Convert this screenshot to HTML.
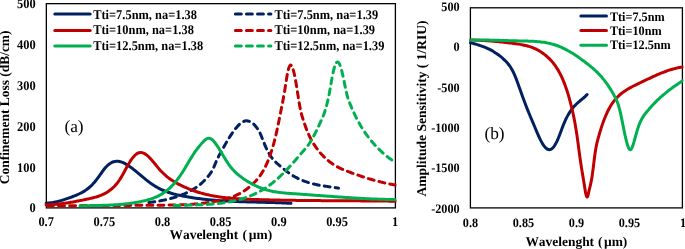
<!DOCTYPE html>
<html><head><meta charset="utf-8"><title>chart</title>
<style>
html,body{margin:0;padding:0;background:#fff;}
body{width:685px;height:249px;overflow:hidden;}
svg{display:block;will-change:transform;}
text{font-family:"Liberation Serif",serif;fill:#000;font-kerning:none;text-rendering:geometricPrecision;}
.b{font-weight:bold;}
.r{font-weight:normal;}
</style></head><body>
<svg width="685" height="249" viewBox="0 0 685 249">
<rect x="0" y="0" width="685" height="249" fill="#fff"/>
<rect x="46.35" y="3.65" width="349.05" height="204.25" fill="none" stroke="#000" stroke-width="1.3"/>
<rect x="470.40" y="7.80" width="212.00" height="200.10" fill="none" stroke="#000" stroke-width="1.3"/>
<clipPath id="cl"><rect x="44.4" y="3.6" width="352.0" height="205.2"/></clipPath>
<clipPath id="cr"><rect x="468.4" y="7.8" width="215.0" height="201.1"/></clipPath>
<g clip-path="url(#cl)">
<path d="M46.00 203.17 C46.25 203.15 47.00 203.13 47.50 203.10 C48.00 203.07 48.50 203.03 49.00 202.99 C49.50 202.94 50.00 202.89 50.50 202.83 C51.00 202.77 51.50 202.70 52.00 202.62 C52.50 202.55 53.00 202.46 53.50 202.38 C54.00 202.29 54.50 202.19 55.00 202.09 C55.50 201.99 56.00 201.88 56.50 201.76 C57.00 201.65 57.50 201.53 58.00 201.41 C58.50 201.28 59.00 201.15 59.50 201.01 C60.00 200.88 60.50 200.74 61.00 200.59 C61.50 200.45 62.00 200.30 62.50 200.15 C63.00 199.99 63.50 199.84 64.00 199.68 C64.50 199.51 65.00 199.35 65.50 199.18 C66.00 199.01 66.50 198.84 67.00 198.67 C67.50 198.50 68.00 198.32 68.50 198.14 C69.00 197.96 69.50 197.78 70.00 197.60 C70.50 197.41 71.00 197.23 71.50 197.04 C72.00 196.85 72.50 196.67 73.00 196.48 C73.50 196.29 74.00 196.09 74.50 195.90 C75.00 195.70 75.50 195.50 76.00 195.30 C76.50 195.09 77.00 194.88 77.50 194.66 C78.00 194.44 78.50 194.22 79.00 193.98 C79.50 193.75 80.00 193.51 80.50 193.25 C81.00 193.00 81.50 192.74 82.00 192.46 C82.50 192.19 83.00 191.90 83.50 191.60 C84.00 191.30 84.50 190.99 85.00 190.66 C85.50 190.33 86.00 189.99 86.50 189.63 C87.00 189.27 87.50 188.90 88.00 188.50 C88.50 188.11 89.00 187.69 89.50 187.26 C90.00 186.83 90.50 186.38 91.00 185.90 C91.50 185.43 92.00 184.94 92.50 184.42 C93.00 183.90 93.50 183.36 94.00 182.80 C94.50 182.23 95.00 181.64 95.50 181.03 C96.00 180.41 96.50 179.76 97.00 179.10 C97.50 178.44 98.00 177.74 98.50 177.05 C99.00 176.35 99.50 175.63 100.00 174.92 C100.50 174.22 101.00 173.50 101.50 172.80 C102.00 172.10 102.50 171.40 103.00 170.73 C103.50 170.07 104.00 169.41 104.50 168.79 C105.00 168.18 105.50 167.59 106.00 167.04 C106.50 166.50 107.00 165.99 107.50 165.52 C108.00 165.05 108.50 164.62 109.00 164.23 C109.50 163.84 110.00 163.49 110.50 163.18 C111.00 162.87 111.50 162.60 112.00 162.36 C112.50 162.13 113.00 161.94 113.50 161.78 C114.00 161.62 114.50 161.51 115.00 161.42 C115.50 161.34 116.00 161.29 116.50 161.27 C117.00 161.25 117.50 161.27 118.00 161.31 C118.50 161.35 119.00 161.43 119.50 161.53 C120.00 161.63 120.50 161.76 121.00 161.91 C121.50 162.06 122.00 162.24 122.50 162.44 C123.00 162.63 123.50 162.86 124.00 163.10 C124.50 163.34 125.00 163.60 125.50 163.87 C126.00 164.15 126.50 164.45 127.00 164.76 C127.50 165.06 128.00 165.39 128.50 165.72 C129.00 166.06 129.50 166.41 130.00 166.76 C130.50 167.12 131.00 167.49 131.50 167.86 C132.00 168.24 132.50 168.62 133.00 169.00 C133.50 169.39 134.00 169.79 134.50 170.18 C135.00 170.58 135.50 170.99 136.00 171.39 C136.50 171.80 137.00 172.21 137.50 172.62 C138.00 173.03 138.50 173.45 139.00 173.87 C139.50 174.28 140.00 174.70 140.50 175.12 C141.00 175.54 141.50 175.95 142.00 176.37 C142.50 176.79 143.00 177.20 143.50 177.61 C144.00 178.03 144.50 178.44 145.00 178.84 C145.50 179.25 146.00 179.65 146.50 180.05 C147.00 180.45 147.50 180.84 148.00 181.23 C148.50 181.61 149.00 181.99 149.50 182.37 C150.00 182.74 150.50 183.10 151.00 183.46 C151.50 183.82 152.00 184.17 152.50 184.50 C153.00 184.84 153.50 185.17 154.00 185.49 C154.50 185.81 155.00 186.12 155.50 186.41 C156.00 186.71 156.50 187.00 157.00 187.28 C157.50 187.57 158.00 187.84 158.50 188.10 C159.00 188.36 159.50 188.62 160.00 188.87 C160.50 189.11 161.00 189.35 161.50 189.58 C162.00 189.81 162.50 190.04 163.00 190.25 C163.50 190.47 164.00 190.68 164.50 190.88 C165.00 191.08 165.50 191.28 166.00 191.47 C166.50 191.66 167.00 191.84 167.50 192.01 C168.00 192.19 168.50 192.36 169.00 192.53 C169.50 192.69 170.00 192.85 170.50 193.00 C171.00 193.16 171.50 193.31 172.00 193.45 C172.50 193.60 173.00 193.74 173.50 193.87 C174.00 194.01 174.50 194.14 175.00 194.26 C175.50 194.39 176.00 194.51 176.50 194.63 C177.00 194.75 177.50 194.87 178.00 194.98 C178.50 195.10 179.00 195.21 179.50 195.31 C180.00 195.42 180.50 195.53 181.00 195.63 C181.50 195.73 182.00 195.83 182.50 195.93 C183.00 196.03 183.50 196.13 184.00 196.22 C184.50 196.32 185.00 196.41 185.50 196.50 C186.00 196.59 186.50 196.69 187.00 196.77 C187.50 196.86 188.00 196.95 188.50 197.04 C189.00 197.12 189.50 197.20 190.00 197.29 C190.50 197.37 191.00 197.45 191.50 197.53 C192.00 197.61 192.50 197.69 193.00 197.76 C193.50 197.84 194.00 197.92 194.50 197.99 C195.00 198.06 195.50 198.13 196.00 198.21 C196.50 198.28 197.00 198.35 197.50 198.41 C198.00 198.48 198.50 198.55 199.00 198.61 C199.50 198.68 200.00 198.74 200.50 198.80 C201.00 198.87 201.50 198.93 202.00 198.99 C202.50 199.05 203.00 199.11 203.50 199.16 C204.00 199.22 204.50 199.28 205.00 199.33 C205.50 199.39 206.00 199.44 206.50 199.50 C207.00 199.55 207.50 199.60 208.00 199.65 C208.50 199.70 209.00 199.75 209.50 199.80 C210.00 199.85 210.50 199.89 211.00 199.94 C211.50 199.99 212.00 200.03 212.50 200.07 C213.00 200.12 213.50 200.16 214.00 200.20 C214.50 200.25 215.00 200.29 215.50 200.33 C216.00 200.37 216.50 200.40 217.00 200.44 C217.50 200.48 218.00 200.52 218.50 200.55 C219.00 200.59 219.50 200.63 220.00 200.66 C220.50 200.69 221.00 200.73 221.50 200.76 C222.00 200.79 222.50 200.83 223.00 200.86 C223.50 200.89 224.00 200.92 224.50 200.95 C225.00 200.98 225.50 201.01 226.00 201.03 C226.50 201.06 227.00 201.09 227.50 201.12 C228.00 201.14 228.50 201.17 229.00 201.19 C229.50 201.22 230.00 201.24 230.50 201.27 C231.00 201.29 231.50 201.32 232.00 201.34 C232.50 201.36 233.00 201.38 233.50 201.40 C234.00 201.43 234.50 201.45 235.00 201.47 C235.50 201.49 236.00 201.51 236.50 201.53 C237.00 201.55 237.50 201.57 238.00 201.59 C238.50 201.60 239.00 201.62 239.50 201.64 C240.00 201.66 240.50 201.67 241.00 201.69 C241.50 201.71 242.00 201.72 242.50 201.74 C243.00 201.76 243.50 201.77 244.00 201.79 C244.50 201.80 245.00 201.82 245.50 201.83 C246.00 201.85 246.50 201.86 247.00 201.88 C247.50 201.89 248.00 201.91 248.50 201.92 C249.00 201.93 249.50 201.95 250.00 201.96 C250.50 201.97 251.00 201.99 251.50 202.00 C252.00 202.01 252.50 202.02 253.00 202.04 C253.50 202.05 254.00 202.06 254.50 202.08 C255.00 202.09 255.50 202.10 256.00 202.11 C256.50 202.13 257.00 202.14 257.50 202.15 C258.00 202.16 258.50 202.17 259.00 202.19 C259.50 202.20 260.00 202.21 260.50 202.22 C261.00 202.24 261.50 202.25 262.00 202.26 C262.50 202.27 263.00 202.29 263.50 202.30 C264.00 202.31 264.50 202.32 265.00 202.34 C265.50 202.35 266.00 202.36 266.50 202.38 C267.00 202.39 267.50 202.40 268.00 202.42 C268.50 202.43 269.00 202.44 269.50 202.46 C270.00 202.47 270.50 202.49 271.00 202.50 C271.50 202.52 272.00 202.53 272.50 202.55 C273.00 202.56 273.50 202.58 274.00 202.59 C274.50 202.61 275.00 202.62 275.50 202.64 C276.00 202.66 276.50 202.67 277.00 202.69 C277.50 202.71 278.00 202.73 278.50 202.74 C279.00 202.76 279.50 202.78 280.00 202.80 C280.50 202.82 281.00 202.84 281.50 202.86 C282.00 202.88 282.50 202.90 283.00 202.92 C283.50 202.94 284.00 202.97 284.50 202.99 C285.00 203.01 285.50 203.03 286.00 203.06 C286.50 203.08 287.00 203.10 287.50 203.13 C288.00 203.15 288.50 203.18 289.00 203.21 C289.50 203.23 290.17 203.27 290.50 203.29 C290.83 203.30 290.92 203.31 291.00 203.31" fill="none" stroke="#002060" stroke-width="3.00" stroke-linecap="round" stroke-linejoin="round"/>
<path d="M148.90 202.55 C149.15 202.51 149.90 202.41 150.40 202.34 C150.90 202.28 151.40 202.21 151.90 202.13 C152.40 202.06 152.90 201.99 153.40 201.92 C153.90 201.84 154.40 201.77 154.90 201.69 C155.40 201.61 155.90 201.54 156.40 201.46 C156.90 201.38 157.40 201.29 157.90 201.21 C158.40 201.13 158.90 201.04 159.40 200.95 C159.90 200.86 160.40 200.77 160.90 200.68 C161.40 200.59 161.90 200.49 162.40 200.40 C162.90 200.30 163.40 200.20 163.90 200.10 C164.40 199.99 164.90 199.89 165.40 199.78 C165.90 199.67 166.40 199.56 166.90 199.44 C167.40 199.33 167.90 199.21 168.40 199.09 C168.90 198.96 169.40 198.84 169.90 198.71 C170.40 198.58 170.90 198.45 171.40 198.31 C171.90 198.17 172.40 198.03 172.90 197.89 C173.40 197.74 173.90 197.60 174.40 197.44 C174.90 197.29 175.40 197.13 175.90 196.97 C176.40 196.81 176.90 196.64 177.40 196.47 C177.90 196.30 178.40 196.13 178.90 195.95 C179.40 195.77 179.90 195.58 180.40 195.39 C180.90 195.20 181.40 195.01 181.90 194.81 C182.40 194.61 182.90 194.40 183.40 194.19 C183.90 193.98 184.40 193.76 184.90 193.54 C185.40 193.31 185.90 193.09 186.40 192.85 C186.90 192.62 187.40 192.38 187.90 192.13 C188.40 191.88 188.90 191.63 189.40 191.37 C189.90 191.11 190.40 190.85 190.90 190.58 C191.40 190.30 191.90 190.03 192.40 189.74 C192.90 189.45 193.40 189.15 193.90 188.85 C194.40 188.54 194.90 188.22 195.40 187.90 C195.90 187.57 196.40 187.23 196.90 186.88 C197.40 186.53 197.90 186.16 198.40 185.78 C198.90 185.40 199.40 185.01 199.90 184.60 C200.40 184.20 200.90 183.77 201.40 183.33 C201.90 182.89 202.40 182.44 202.90 181.96 C203.40 181.49 203.90 180.99 204.40 180.48 C204.90 179.97 205.40 179.44 205.90 178.89 C206.40 178.33 206.90 177.76 207.40 177.18 C207.90 176.59 208.40 175.98 208.90 175.36 C209.40 174.73 209.90 174.12 210.40 173.41 C210.90 172.71 211.40 171.99 211.90 171.10 C212.40 170.21 212.90 169.18 213.40 168.10 C213.90 167.01 214.40 165.77 214.90 164.60 C215.40 163.43 215.90 162.19 216.40 161.06 C216.90 159.93 217.40 158.85 217.90 157.82 C218.40 156.79 218.90 155.82 219.40 154.87 C219.90 153.93 220.40 153.03 220.90 152.13 C221.40 151.24 221.90 150.38 222.40 149.49 C222.90 148.60 223.40 147.71 223.90 146.82 C224.40 145.92 224.90 145.00 225.40 144.11 C225.90 143.23 226.40 142.35 226.90 141.50 C227.40 140.65 227.90 139.81 228.40 139.00 C228.90 138.18 229.40 137.39 229.90 136.61 C230.40 135.84 230.90 135.08 231.40 134.34 C231.90 133.60 232.40 132.88 232.90 132.18 C233.40 131.48 233.90 130.79 234.40 130.13 C234.90 129.47 235.40 128.82 235.90 128.20 C236.40 127.58 236.90 126.97 237.40 126.41 C237.90 125.84 238.40 125.30 238.90 124.81 C239.40 124.32 239.90 123.86 240.40 123.45 C240.90 123.04 241.40 122.67 241.90 122.36 C242.40 122.05 242.90 121.78 243.40 121.56 C243.90 121.35 244.40 121.18 244.90 121.06 C245.40 120.94 245.90 120.87 246.40 120.85 C246.90 120.83 247.40 120.86 247.90 120.94 C248.40 121.01 248.90 121.14 249.40 121.32 C249.90 121.50 250.40 121.73 250.90 122.01 C251.40 122.29 251.90 122.63 252.40 123.01 C252.90 123.39 253.40 123.83 253.90 124.31 C254.40 124.80 254.90 125.34 255.40 125.93 C255.90 126.52 256.40 127.15 256.90 127.85 C257.40 128.55 257.90 129.29 258.40 130.13 C258.90 130.96 259.40 131.85 259.90 132.87 C260.40 133.89 260.90 135.04 261.40 136.23 C261.90 137.43 262.40 138.79 262.90 140.05 C263.40 141.31 263.90 142.60 264.40 143.81 C264.90 145.02 265.40 146.20 265.90 147.32 C266.40 148.43 266.90 149.50 267.40 150.50 C267.90 151.50 268.40 152.44 268.90 153.31 C269.40 154.19 269.90 154.99 270.40 155.75 C270.90 156.51 271.40 157.21 271.90 157.87 C272.40 158.53 272.90 159.14 273.40 159.72 C273.90 160.30 274.40 160.83 274.90 161.35 C275.40 161.87 275.90 162.35 276.40 162.82 C276.90 163.29 277.40 163.73 277.90 164.17 C278.40 164.61 278.90 165.03 279.40 165.46 C279.90 165.88 280.40 166.30 280.90 166.72 C281.40 167.14 281.90 167.55 282.40 167.96 C282.90 168.37 283.40 168.78 283.90 169.18 C284.40 169.58 284.90 169.97 285.40 170.36 C285.90 170.74 286.40 171.13 286.90 171.50 C287.40 171.88 287.90 172.24 288.40 172.60 C288.90 172.96 289.40 173.32 289.90 173.66 C290.40 174.00 290.90 174.34 291.40 174.66 C291.90 174.99 292.40 175.31 292.90 175.61 C293.40 175.92 293.90 176.22 294.40 176.51 C294.90 176.80 295.40 177.08 295.90 177.35 C296.40 177.62 296.90 177.88 297.40 178.14 C297.90 178.39 298.40 178.64 298.90 178.88 C299.40 179.12 299.90 179.35 300.40 179.57 C300.90 179.80 301.40 180.01 301.90 180.22 C302.40 180.43 302.90 180.63 303.40 180.83 C303.90 181.02 304.40 181.21 304.90 181.39 C305.40 181.57 305.90 181.75 306.40 181.92 C306.90 182.09 307.40 182.25 307.90 182.41 C308.40 182.56 308.90 182.72 309.40 182.86 C309.90 183.01 310.40 183.15 310.90 183.29 C311.40 183.43 311.90 183.56 312.40 183.68 C312.90 183.81 313.40 183.93 313.90 184.05 C314.40 184.17 314.90 184.28 315.40 184.40 C315.90 184.51 316.40 184.61 316.90 184.72 C317.40 184.82 317.90 184.92 318.40 185.01 C318.90 185.11 319.40 185.20 319.90 185.30 C320.40 185.39 320.90 185.47 321.40 185.56 C321.90 185.65 322.40 185.73 322.90 185.81 C323.40 185.89 323.90 185.97 324.40 186.05 C324.90 186.13 325.40 186.20 325.90 186.28 C326.40 186.35 326.90 186.43 327.40 186.50 C327.90 186.57 328.40 186.64 328.90 186.72 C329.40 186.79 329.90 186.86 330.40 186.93 C330.90 187.00 331.40 187.07 331.90 187.14 C332.40 187.21 332.90 187.28 333.40 187.35 C333.90 187.43 334.40 187.50 334.90 187.57 C335.40 187.64 335.90 187.72 336.40 187.79 C336.90 187.87 337.53 187.97 337.90 188.02 C338.27 188.08 338.48 188.12 338.60 188.13" fill="none" stroke="#002060" stroke-width="3.00" stroke-linecap="round" stroke-linejoin="round" stroke-dasharray="5.9 5.15" stroke-dashoffset="0.00"/>
<path d="M46.00 204.83 C46.25 204.82 47.00 204.81 47.50 204.79 C48.00 204.78 48.50 204.76 49.00 204.74 C49.50 204.72 50.00 204.70 50.50 204.67 C51.00 204.65 51.50 204.62 52.00 204.59 C52.50 204.56 53.00 204.52 53.50 204.49 C54.00 204.45 54.50 204.41 55.00 204.37 C55.50 204.33 56.00 204.28 56.50 204.24 C57.00 204.19 57.50 204.14 58.00 204.09 C58.50 204.04 59.00 203.98 59.50 203.93 C60.00 203.87 60.50 203.81 61.00 203.75 C61.50 203.69 62.00 203.63 62.50 203.56 C63.00 203.50 63.50 203.43 64.00 203.36 C64.50 203.29 65.00 203.22 65.50 203.15 C66.00 203.08 66.50 203.00 67.00 202.93 C67.50 202.85 68.00 202.77 68.50 202.69 C69.00 202.61 69.50 202.53 70.00 202.45 C70.50 202.36 71.00 202.28 71.50 202.19 C72.00 202.11 72.50 202.02 73.00 201.93 C73.50 201.84 74.00 201.75 74.50 201.66 C75.00 201.57 75.50 201.47 76.00 201.38 C76.50 201.28 77.00 201.19 77.50 201.09 C78.00 200.99 78.50 200.90 79.00 200.80 C79.50 200.70 80.00 200.60 80.50 200.50 C81.00 200.40 81.50 200.29 82.00 200.19 C82.50 200.09 83.00 199.99 83.50 199.88 C84.00 199.78 84.50 199.67 85.00 199.57 C85.50 199.46 86.00 199.36 86.50 199.25 C87.00 199.14 87.50 199.04 88.00 198.93 C88.50 198.82 89.00 198.71 89.50 198.60 C90.00 198.49 90.50 198.38 91.00 198.27 C91.50 198.15 92.00 198.04 92.50 197.92 C93.00 197.80 93.50 197.67 94.00 197.54 C94.50 197.42 95.00 197.28 95.50 197.14 C96.00 197.00 96.50 196.85 97.00 196.70 C97.50 196.54 98.00 196.38 98.50 196.21 C99.00 196.04 99.50 195.86 100.00 195.67 C100.50 195.48 101.00 195.28 101.50 195.07 C102.00 194.86 102.50 194.64 103.00 194.40 C103.50 194.17 104.00 193.92 104.50 193.66 C105.00 193.40 105.50 193.12 106.00 192.83 C106.50 192.54 107.00 192.24 107.50 191.92 C108.00 191.60 108.50 191.26 109.00 190.91 C109.50 190.56 110.00 190.19 110.50 189.80 C111.00 189.41 111.50 189.00 112.00 188.57 C112.50 188.14 113.00 187.70 113.50 187.23 C114.00 186.75 114.50 186.26 115.00 185.73 C115.50 185.21 116.00 184.65 116.50 184.06 C117.00 183.47 117.50 182.84 118.00 182.17 C118.50 181.50 119.00 180.79 119.50 180.03 C120.00 179.28 120.50 178.47 121.00 177.63 C121.50 176.80 122.00 175.92 122.50 175.03 C123.00 174.14 123.50 173.21 124.00 172.30 C124.50 171.38 125.00 170.44 125.50 169.53 C126.00 168.61 126.50 167.69 127.00 166.79 C127.50 165.90 128.00 165.02 128.50 164.17 C129.00 163.32 129.50 162.49 130.00 161.70 C130.50 160.91 131.00 160.15 131.50 159.44 C132.00 158.72 132.50 158.04 133.00 157.42 C133.50 156.80 134.00 156.22 134.50 155.70 C135.00 155.18 135.50 154.72 136.00 154.32 C136.50 153.92 137.00 153.59 137.50 153.32 C138.00 153.05 138.50 152.86 139.00 152.72 C139.50 152.58 140.00 152.51 140.50 152.50 C141.00 152.49 141.50 152.54 142.00 152.65 C142.50 152.75 143.00 152.92 143.50 153.13 C144.00 153.33 144.50 153.60 145.00 153.90 C145.50 154.20 146.00 154.55 146.50 154.93 C147.00 155.31 147.50 155.74 148.00 156.19 C148.50 156.64 149.00 157.13 149.50 157.63 C150.00 158.14 150.50 158.68 151.00 159.23 C151.50 159.78 152.00 160.35 152.50 160.93 C153.00 161.51 153.50 162.12 154.00 162.72 C154.50 163.32 155.00 163.93 155.50 164.54 C156.00 165.15 156.50 165.77 157.00 166.37 C157.50 166.98 158.00 167.58 158.50 168.17 C159.00 168.76 159.50 169.34 160.00 169.90 C160.50 170.46 161.00 171.01 161.50 171.53 C162.00 172.06 162.50 172.56 163.00 173.05 C163.50 173.54 164.00 174.02 164.50 174.48 C165.00 174.93 165.50 175.38 166.00 175.80 C166.50 176.23 167.00 176.65 167.50 177.05 C168.00 177.45 168.50 177.83 169.00 178.21 C169.50 178.58 170.00 178.94 170.50 179.29 C171.00 179.65 171.50 179.98 172.00 180.31 C172.50 180.64 173.00 180.96 173.50 181.27 C174.00 181.58 174.50 181.89 175.00 182.18 C175.50 182.47 176.00 182.76 176.50 183.04 C177.00 183.32 177.50 183.59 178.00 183.85 C178.50 184.12 179.00 184.38 179.50 184.63 C180.00 184.89 180.50 185.14 181.00 185.39 C181.50 185.63 182.00 185.88 182.50 186.11 C183.00 186.35 183.50 186.58 184.00 186.81 C184.50 187.04 185.00 187.26 185.50 187.48 C186.00 187.71 186.50 187.92 187.00 188.13 C187.50 188.34 188.00 188.55 188.50 188.76 C189.00 188.96 189.50 189.16 190.00 189.35 C190.50 189.55 191.00 189.74 191.50 189.93 C192.00 190.12 192.50 190.30 193.00 190.48 C193.50 190.66 194.00 190.84 194.50 191.01 C195.00 191.18 195.50 191.35 196.00 191.51 C196.50 191.68 197.00 191.84 197.50 192.00 C198.00 192.16 198.50 192.31 199.00 192.46 C199.50 192.61 200.00 192.76 200.50 192.90 C201.00 193.05 201.50 193.19 202.00 193.32 C202.50 193.46 203.00 193.60 203.50 193.73 C204.00 193.86 204.50 193.99 205.00 194.11 C205.50 194.23 206.00 194.36 206.50 194.47 C207.00 194.59 207.50 194.71 208.00 194.82 C208.50 194.93 209.00 195.04 209.50 195.15 C210.00 195.26 210.50 195.36 211.00 195.46 C211.50 195.56 212.00 195.66 212.50 195.76 C213.00 195.85 213.50 195.95 214.00 196.04 C214.50 196.13 215.00 196.21 215.50 196.30 C216.00 196.39 216.50 196.47 217.00 196.55 C217.50 196.63 218.00 196.71 218.50 196.78 C219.00 196.86 219.50 196.93 220.00 197.00 C220.50 197.08 221.00 197.14 221.50 197.21 C222.00 197.28 222.50 197.34 223.00 197.41 C223.50 197.47 224.00 197.53 224.50 197.59 C225.00 197.65 225.50 197.70 226.00 197.76 C226.50 197.81 227.00 197.87 227.50 197.92 C228.00 197.97 228.50 198.02 229.00 198.07 C229.50 198.12 230.00 198.16 230.50 198.21 C231.00 198.25 231.50 198.29 232.00 198.34 C232.50 198.38 233.00 198.42 233.50 198.45 C234.00 198.49 234.50 198.53 235.00 198.57 C235.50 198.60 236.00 198.64 236.50 198.67 C237.00 198.70 237.50 198.73 238.00 198.77 C238.50 198.80 239.00 198.83 239.50 198.85 C240.00 198.88 240.50 198.91 241.00 198.94 C241.50 198.96 242.00 198.99 242.50 199.01 C243.00 199.04 243.50 199.06 244.00 199.08 C244.50 199.11 245.00 199.13 245.50 199.15 C246.00 199.17 246.50 199.19 247.00 199.21 C247.50 199.23 248.00 199.25 248.50 199.27 C249.00 199.29 249.50 199.31 250.00 199.32 C250.50 199.34 251.00 199.36 251.50 199.38 C252.00 199.39 252.50 199.41 253.00 199.43 C253.50 199.44 254.00 199.46 254.50 199.47 C255.00 199.49 255.50 199.51 256.00 199.52 C256.50 199.54 257.00 199.55 257.50 199.57 C258.00 199.58 258.50 199.60 259.00 199.61 C259.50 199.62 260.00 199.64 260.50 199.65 C261.00 199.67 261.50 199.68 262.00 199.69 C262.50 199.71 263.00 199.72 263.50 199.74 C264.00 199.75 264.50 199.76 265.00 199.78 C265.50 199.79 266.00 199.80 266.50 199.81 C267.00 199.83 267.50 199.84 268.00 199.85 C268.50 199.86 269.00 199.88 269.50 199.89 C270.00 199.90 270.50 199.91 271.00 199.92 C271.50 199.93 272.00 199.95 272.50 199.96 C273.00 199.97 273.50 199.98 274.00 199.99 C274.50 200.00 275.00 200.01 275.50 200.02 C276.00 200.03 276.50 200.04 277.00 200.05 C277.50 200.06 278.00 200.07 278.50 200.08 C279.00 200.09 279.50 200.10 280.00 200.11 C280.50 200.12 281.00 200.13 281.50 200.14 C282.00 200.15 282.50 200.16 283.00 200.17 C283.50 200.18 284.00 200.19 284.50 200.19 C285.00 200.20 285.50 200.21 286.00 200.22 C286.50 200.23 287.00 200.24 287.50 200.24 C288.00 200.25 288.50 200.26 289.00 200.27 C289.50 200.28 290.00 200.28 290.50 200.29 C291.00 200.30 291.50 200.31 292.00 200.31 C292.50 200.32 293.00 200.33 293.50 200.34 C294.00 200.34 294.50 200.35 295.00 200.36 C295.50 200.36 296.00 200.37 296.50 200.38 C297.00 200.38 297.50 200.39 298.00 200.40 C298.50 200.40 299.00 200.41 299.50 200.42 C300.00 200.42 300.50 200.43 301.00 200.43 C301.50 200.44 302.00 200.45 302.50 200.45 C303.00 200.46 303.50 200.46 304.00 200.47 C304.50 200.47 305.00 200.48 305.50 200.49 C306.00 200.49 306.50 200.50 307.00 200.50 C307.50 200.51 308.00 200.51 308.50 200.52 C309.00 200.52 309.50 200.53 310.00 200.53 C310.50 200.54 311.00 200.54 311.50 200.55 C312.00 200.55 312.50 200.56 313.00 200.56 C313.50 200.57 314.00 200.57 314.50 200.57 C315.00 200.58 315.50 200.58 316.00 200.59 C316.50 200.59 317.00 200.60 317.50 200.60 C318.00 200.60 318.50 200.61 319.00 200.61 C319.50 200.62 320.00 200.62 320.50 200.62 C321.00 200.63 321.50 200.63 322.00 200.64 C322.50 200.64 323.00 200.64 323.50 200.65 C324.00 200.65 324.50 200.65 325.00 200.66 C325.50 200.66 326.00 200.66 326.50 200.67 C327.00 200.67 327.50 200.67 328.00 200.68 C328.50 200.68 329.00 200.68 329.50 200.69 C330.00 200.69 330.50 200.69 331.00 200.70 C331.50 200.70 332.00 200.70 332.50 200.71 C333.00 200.71 333.50 200.71 334.00 200.72 C334.50 200.72 335.00 200.72 335.50 200.73 C336.00 200.73 336.50 200.73 337.00 200.74 C337.50 200.74 338.00 200.74 338.50 200.74 C339.00 200.75 339.50 200.75 340.00 200.75 C340.50 200.76 341.00 200.76 341.50 200.76 C342.00 200.76 342.50 200.77 343.00 200.77 C343.50 200.77 344.00 200.78 344.50 200.78 C345.00 200.78 345.50 200.79 346.00 200.79 C346.50 200.79 347.00 200.79 347.50 200.80 C348.00 200.80 348.50 200.80 349.00 200.81 C349.50 200.81 350.00 200.81 350.50 200.81 C351.00 200.82 351.50 200.82 352.00 200.82 C352.50 200.83 353.00 200.83 353.50 200.83 C354.00 200.84 354.50 200.84 355.00 200.84 C355.50 200.84 356.00 200.85 356.50 200.85 C357.00 200.85 357.50 200.86 358.00 200.86 C358.50 200.86 359.00 200.87 359.50 200.87 C360.00 200.87 360.50 200.88 361.00 200.88 C361.50 200.88 362.00 200.89 362.50 200.89 C363.00 200.89 363.50 200.90 364.00 200.90 C364.50 200.90 365.00 200.91 365.50 200.91 C366.00 200.91 366.50 200.92 367.00 200.92 C367.50 200.92 368.00 200.93 368.50 200.93 C369.00 200.93 369.50 200.94 370.00 200.94 C370.50 200.95 371.00 200.95 371.50 200.95 C372.00 200.96 372.50 200.96 373.00 200.97 C373.50 200.97 374.00 200.97 374.50 200.98 C375.00 200.98 375.50 200.99 376.00 200.99 C376.50 200.99 377.00 201.00 377.50 201.00 C378.00 201.01 378.50 201.01 379.00 201.02 C379.50 201.02 380.00 201.03 380.50 201.03 C381.00 201.04 381.50 201.04 382.00 201.05 C382.50 201.05 383.00 201.06 383.50 201.06 C384.00 201.07 384.50 201.07 385.00 201.08 C385.50 201.08 386.00 201.09 386.50 201.09 C387.00 201.10 387.50 201.10 388.00 201.11 C388.50 201.11 389.00 201.12 389.50 201.13 C390.00 201.13 390.50 201.14 391.00 201.14 C391.50 201.15 392.00 201.16 392.50 201.16 C393.00 201.17 393.50 201.18 394.00 201.18 C394.50 201.19 395.17 201.20 395.50 201.20 C395.83 201.21 395.92 201.21 396.00 201.21" fill="none" stroke="#C00000" stroke-width="3.00" stroke-linecap="round" stroke-linejoin="round"/>
<path d="M46.00 205.70 C46.25 205.70 47.00 205.69 47.50 205.69 C48.00 205.69 48.50 205.69 49.00 205.69 C49.50 205.69 50.00 205.69 50.50 205.69 C51.00 205.69 51.50 205.69 52.00 205.69 C52.50 205.69 53.00 205.68 53.50 205.68 C54.00 205.68 54.50 205.68 55.00 205.68 C55.50 205.68 56.00 205.68 56.50 205.68 C57.00 205.68 57.50 205.67 58.00 205.67 C58.50 205.67 59.00 205.67 59.50 205.67 C60.00 205.67 60.50 205.67 61.00 205.67 C61.50 205.67 62.00 205.66 62.50 205.66 C63.00 205.66 63.50 205.66 64.00 205.66 C64.50 205.66 65.00 205.66 65.50 205.66 C66.00 205.65 66.50 205.65 67.00 205.65 C67.50 205.65 68.00 205.65 68.50 205.65 C69.00 205.65 69.50 205.64 70.00 205.64 C70.50 205.64 71.00 205.64 71.50 205.64 C72.00 205.64 72.50 205.64 73.00 205.63 C73.50 205.63 74.00 205.63 74.50 205.63 C75.00 205.63 75.50 205.63 76.00 205.62 C76.50 205.62 77.00 205.62 77.50 205.62 C78.00 205.62 78.50 205.62 79.00 205.62 C79.50 205.61 80.00 205.61 80.50 205.61 C81.00 205.61 81.50 205.61 82.00 205.60 C82.50 205.60 83.00 205.60 83.50 205.60 C84.00 205.60 84.50 205.60 85.00 205.59 C85.50 205.59 86.00 205.59 86.50 205.59 C87.00 205.59 87.50 205.58 88.00 205.58 C88.50 205.58 89.00 205.58 89.50 205.58 C90.00 205.58 90.50 205.57 91.00 205.57 C91.50 205.57 92.00 205.57 92.50 205.57 C93.00 205.56 93.50 205.56 94.00 205.56 C94.50 205.56 95.00 205.55 95.50 205.55 C96.00 205.55 96.50 205.55 97.00 205.55 C97.50 205.54 98.00 205.54 98.50 205.54 C99.00 205.54 99.50 205.54 100.00 205.53 C100.50 205.53 101.00 205.53 101.50 205.53 C102.00 205.52 102.50 205.52 103.00 205.52 C103.50 205.52 104.00 205.51 104.50 205.51 C105.00 205.51 105.50 205.51 106.00 205.51 C106.50 205.50 107.00 205.50 107.50 205.50 C108.00 205.50 108.50 205.49 109.00 205.49 C109.50 205.49 110.00 205.49 110.50 205.48 C111.00 205.48 111.50 205.48 112.00 205.48 C112.50 205.47 113.00 205.47 113.50 205.47 C114.00 205.47 114.50 205.46 115.00 205.46 C115.50 205.46 116.00 205.46 116.50 205.45 C117.00 205.45 117.50 205.45 118.00 205.45 C118.50 205.44 119.00 205.44 119.50 205.44 C120.00 205.43 120.50 205.43 121.00 205.43 C121.50 205.43 122.00 205.42 122.50 205.42 C123.00 205.42 123.50 205.42 124.00 205.41 C124.50 205.41 125.00 205.41 125.50 205.40 C126.00 205.40 126.50 205.40 127.00 205.40 C127.50 205.39 128.00 205.39 128.50 205.39 C129.00 205.38 129.50 205.38 130.00 205.38 C130.50 205.37 131.00 205.37 131.50 205.37 C132.00 205.37 132.50 205.36 133.00 205.36 C133.50 205.36 134.00 205.35 134.50 205.35 C135.00 205.35 135.50 205.34 136.00 205.34 C136.50 205.34 137.00 205.34 137.50 205.33 C138.00 205.33 138.50 205.33 139.00 205.32 C139.50 205.32 140.00 205.32 140.50 205.31 C141.00 205.31 141.50 205.31 142.00 205.30 C142.50 205.30 143.00 205.30 143.50 205.29 C144.00 205.29 144.50 205.29 145.00 205.28 C145.50 205.28 146.00 205.28 146.50 205.27 C147.00 205.27 147.50 205.27 148.00 205.26 C148.50 205.26 149.00 205.26 149.50 205.25 C150.00 205.25 150.50 205.25 151.00 205.24 C151.50 205.24 152.00 205.24 152.50 205.23 C153.00 205.23 153.50 205.23 154.00 205.22 C154.50 205.22 155.00 205.22 155.50 205.21 C156.00 205.21 156.50 205.21 157.00 205.20 C157.50 205.20 158.00 205.20 158.50 205.19 C159.00 205.19 159.50 205.18 160.00 205.18 C160.50 205.18 161.00 205.17 161.50 205.17 C162.00 205.17 162.50 205.16 163.00 205.16 C163.50 205.15 164.00 205.15 164.50 205.15 C165.00 205.14 165.50 205.14 166.00 205.13 C166.50 205.13 167.00 205.12 167.50 205.12 C168.00 205.11 168.50 205.11 169.00 205.10 C169.50 205.09 170.00 205.09 170.50 205.08 C171.00 205.07 171.50 205.06 172.00 205.06 C172.50 205.05 173.00 205.04 173.50 205.03 C174.00 205.02 174.50 205.01 175.00 205.00 C175.50 204.99 176.00 204.98 176.50 204.97 C177.00 204.95 177.50 204.94 178.00 204.93 C178.50 204.91 179.00 204.90 179.50 204.88 C180.00 204.87 180.50 204.85 181.00 204.84 C181.50 204.82 182.00 204.80 182.50 204.78 C183.00 204.76 183.50 204.74 184.00 204.72 C184.50 204.70 185.00 204.68 185.50 204.65 C186.00 204.63 186.50 204.61 187.00 204.58 C187.50 204.55 188.00 204.53 188.50 204.50 C189.00 204.47 189.50 204.44 190.00 204.41 C190.50 204.38 191.00 204.35 191.50 204.31 C192.00 204.28 192.50 204.24 193.00 204.21 C193.50 204.17 194.00 204.13 194.50 204.09 C195.00 204.05 195.50 204.01 196.00 203.97 C196.50 203.92 197.00 203.88 197.50 203.83 C198.00 203.79 198.50 203.74 199.00 203.69 C199.50 203.64 200.00 203.59 200.50 203.54 C201.00 203.48 201.50 203.43 202.00 203.37 C202.50 203.31 203.00 203.25 203.50 203.19 C204.00 203.13 204.50 203.07 205.00 203.00 C205.50 202.94 206.00 202.87 206.50 202.80 C207.00 202.74 207.50 202.66 208.00 202.59 C208.50 202.52 209.00 202.44 209.50 202.36 C210.00 202.29 210.50 202.21 211.00 202.13 C211.50 202.04 212.00 201.96 212.50 201.87 C213.00 201.79 213.50 201.70 214.00 201.60 C214.50 201.51 215.00 201.42 215.50 201.32 C216.00 201.23 216.50 201.13 217.00 201.03 C217.50 200.92 218.00 200.82 218.50 200.71 C219.00 200.61 219.50 200.50 220.00 200.39 C220.50 200.27 221.00 200.16 221.50 200.04 C222.00 199.92 222.50 199.80 223.00 199.68 C223.50 199.56 224.00 199.43 224.50 199.30 C225.00 199.17 225.50 199.04 226.00 198.90 C226.50 198.76 227.00 198.62 227.50 198.47 C228.00 198.32 228.50 198.17 229.00 198.01 C229.50 197.85 230.00 197.69 230.50 197.52 C231.00 197.35 231.50 197.18 232.00 197.00 C232.50 196.81 233.00 196.62 233.50 196.43 C234.00 196.23 234.50 196.03 235.00 195.82 C235.50 195.61 236.00 195.39 236.50 195.16 C237.00 194.93 237.50 194.70 238.00 194.45 C238.50 194.21 239.00 193.95 239.50 193.69 C240.00 193.42 240.50 193.15 241.00 192.87 C241.50 192.58 242.00 192.29 242.50 191.99 C243.00 191.68 243.50 191.37 244.00 191.04 C244.50 190.71 245.00 190.37 245.50 190.02 C246.00 189.67 246.50 189.31 247.00 188.94 C247.50 188.56 248.00 188.17 248.50 187.77 C249.00 187.37 249.50 186.96 250.00 186.53 C250.50 186.11 251.00 185.66 251.50 185.21 C252.00 184.75 252.50 184.28 253.00 183.80 C253.50 183.31 254.00 182.81 254.50 182.30 C255.00 181.78 255.50 181.26 256.00 180.71 C256.50 180.15 257.00 179.59 257.50 179.00 C258.00 178.40 258.50 177.79 259.00 177.13 C259.50 176.48 260.00 175.81 260.50 175.09 C261.00 174.37 261.50 173.62 262.00 172.82 C262.50 172.02 263.00 171.18 263.50 170.29 C264.00 169.40 264.50 168.47 265.00 167.47 C265.50 166.48 266.00 165.43 266.50 164.33 C267.00 163.22 267.50 162.05 268.00 160.82 C268.50 159.58 269.00 158.29 269.50 156.92 C270.00 155.55 270.50 154.11 271.00 152.59 C271.50 151.07 272.00 149.48 272.50 147.81 C273.00 146.13 273.50 144.39 274.00 142.54 C274.50 140.69 275.00 138.79 275.50 136.73 C276.00 134.67 276.50 132.47 277.00 130.18 C277.50 127.89 278.00 125.42 278.50 122.97 C279.00 120.51 279.50 117.94 280.00 115.43 C280.50 112.92 281.00 110.43 281.50 107.90 C282.00 105.37 282.50 102.93 283.00 100.25 C283.50 97.58 284.00 94.86 284.50 91.85 C285.00 88.85 285.50 85.31 286.00 82.22 C286.50 79.13 287.00 75.80 287.50 73.33 C288.00 70.86 288.50 68.77 289.00 67.40 C289.50 66.02 290.00 65.20 290.50 65.08 C291.00 64.96 291.50 65.72 292.00 66.68 C292.50 67.64 293.00 69.11 293.50 70.86 C294.00 72.62 294.50 74.71 295.00 77.21 C295.50 79.71 296.00 82.81 296.50 85.86 C297.00 88.91 297.50 92.37 298.00 95.51 C298.50 98.65 299.00 101.94 299.50 104.70 C300.00 107.46 300.50 109.93 301.00 112.08 C301.50 114.24 302.00 115.93 302.50 117.64 C303.00 119.35 303.50 120.85 304.00 122.35 C304.50 123.85 305.00 125.27 305.50 126.63 C306.00 127.98 306.50 129.27 307.00 130.50 C307.50 131.74 308.00 132.90 308.50 134.02 C309.00 135.14 309.50 136.20 310.00 137.21 C310.50 138.23 311.00 139.19 311.50 140.11 C312.00 141.03 312.50 141.90 313.00 142.74 C313.50 143.58 314.00 144.37 314.50 145.14 C315.00 145.91 315.50 146.64 316.00 147.35 C316.50 148.06 317.00 148.74 317.50 149.40 C318.00 150.06 318.50 150.69 319.00 151.31 C319.50 151.93 320.00 152.53 320.50 153.11 C321.00 153.69 321.50 154.25 322.00 154.79 C322.50 155.33 323.00 155.86 323.50 156.37 C324.00 156.87 324.50 157.36 325.00 157.84 C325.50 158.31 326.00 158.77 326.50 159.22 C327.00 159.66 327.50 160.09 328.00 160.50 C328.50 160.91 329.00 161.31 329.50 161.70 C330.00 162.09 330.50 162.46 331.00 162.82 C331.50 163.18 332.00 163.53 332.50 163.86 C333.00 164.20 333.50 164.52 334.00 164.84 C334.50 165.15 335.00 165.45 335.50 165.75 C336.00 166.04 336.50 166.32 337.00 166.60 C337.50 166.87 338.00 167.14 338.50 167.39 C339.00 167.65 339.50 167.90 340.00 168.14 C340.50 168.38 341.00 168.62 341.50 168.85 C342.00 169.08 342.50 169.30 343.00 169.52 C343.50 169.73 344.00 169.95 344.50 170.15 C345.00 170.36 345.50 170.56 346.00 170.76 C346.50 170.96 347.00 171.16 347.50 171.35 C348.00 171.54 348.50 171.73 349.00 171.92 C349.50 172.11 350.00 172.30 350.50 172.48 C351.00 172.67 351.50 172.86 352.00 173.04 C352.50 173.22 353.00 173.40 353.50 173.59 C354.00 173.77 354.50 173.95 355.00 174.13 C355.50 174.30 356.00 174.48 356.50 174.66 C357.00 174.83 357.50 175.01 358.00 175.18 C358.50 175.35 359.00 175.53 359.50 175.70 C360.00 175.87 360.50 176.04 361.00 176.20 C361.50 176.37 362.00 176.54 362.50 176.70 C363.00 176.87 363.50 177.03 364.00 177.19 C364.50 177.35 365.00 177.51 365.50 177.67 C366.00 177.83 366.50 177.99 367.00 178.14 C367.50 178.30 368.00 178.45 368.50 178.60 C369.00 178.76 369.50 178.91 370.00 179.05 C370.50 179.20 371.00 179.35 371.50 179.50 C372.00 179.64 372.50 179.78 373.00 179.93 C373.50 180.07 374.00 180.21 374.50 180.35 C375.00 180.48 375.50 180.62 376.00 180.76 C376.50 180.89 377.00 181.02 377.50 181.15 C378.00 181.28 378.50 181.41 379.00 181.54 C379.50 181.67 380.00 181.79 380.50 181.92 C381.00 182.04 381.50 182.16 382.00 182.28 C382.50 182.40 383.00 182.52 383.50 182.63 C384.00 182.75 384.50 182.86 385.00 182.97 C385.50 183.08 386.00 183.19 386.50 183.30 C387.00 183.40 387.50 183.51 388.00 183.61 C388.50 183.71 389.00 183.81 389.50 183.91 C390.00 184.01 390.50 184.11 391.00 184.20 C391.50 184.29 392.00 184.38 392.50 184.47 C393.00 184.56 393.50 184.65 394.00 184.73 C394.50 184.82 395.17 184.93 395.50 184.98 C395.83 185.04 395.92 185.05 396.00 185.06" fill="none" stroke="#C00000" stroke-width="3.00" stroke-linecap="round" stroke-linejoin="round" stroke-dasharray="5.9 5.15" stroke-dashoffset="-1.50"/>
<path d="M80.00 205.80 C80.25 205.79 81.00 205.78 81.50 205.76 C82.00 205.75 82.50 205.74 83.00 205.73 C83.50 205.72 84.00 205.71 84.50 205.70 C85.00 205.70 85.50 205.69 86.00 205.68 C86.50 205.67 87.00 205.66 87.50 205.65 C88.00 205.64 88.50 205.63 89.00 205.63 C89.50 205.62 90.00 205.61 90.50 205.60 C91.00 205.59 91.50 205.59 92.00 205.58 C92.50 205.57 93.00 205.56 93.50 205.55 C94.00 205.54 94.50 205.54 95.00 205.53 C95.50 205.52 96.00 205.51 96.50 205.50 C97.00 205.49 97.50 205.48 98.00 205.47 C98.50 205.46 99.00 205.45 99.50 205.44 C100.00 205.42 100.50 205.41 101.00 205.40 C101.50 205.39 102.00 205.37 102.50 205.36 C103.00 205.35 103.50 205.33 104.00 205.32 C104.50 205.30 105.00 205.28 105.50 205.27 C106.00 205.25 106.50 205.23 107.00 205.21 C107.50 205.20 108.00 205.18 108.50 205.15 C109.00 205.13 109.50 205.11 110.00 205.09 C110.50 205.07 111.00 205.04 111.50 205.02 C112.00 204.99 112.50 204.96 113.00 204.94 C113.50 204.91 114.00 204.88 114.50 204.85 C115.00 204.82 115.50 204.79 116.00 204.75 C116.50 204.72 117.00 204.69 117.50 204.65 C118.00 204.61 118.50 204.58 119.00 204.54 C119.50 204.50 120.00 204.46 120.50 204.41 C121.00 204.37 121.50 204.33 122.00 204.28 C122.50 204.23 123.00 204.19 123.50 204.14 C124.00 204.09 124.50 204.03 125.00 203.98 C125.50 203.93 126.00 203.87 126.50 203.81 C127.00 203.75 127.50 203.69 128.00 203.63 C128.50 203.57 129.00 203.51 129.50 203.44 C130.00 203.37 130.50 203.30 131.00 203.23 C131.50 203.16 132.00 203.09 132.50 203.01 C133.00 202.94 133.50 202.86 134.00 202.78 C134.50 202.70 135.00 202.62 135.50 202.53 C136.00 202.45 136.50 202.36 137.00 202.27 C137.50 202.18 138.00 202.08 138.50 201.99 C139.00 201.89 139.50 201.79 140.00 201.69 C140.50 201.59 141.00 201.49 141.50 201.38 C142.00 201.27 142.50 201.16 143.00 201.05 C143.50 200.93 144.00 200.82 144.50 200.70 C145.00 200.58 145.50 200.46 146.00 200.33 C146.50 200.20 147.00 200.07 147.50 199.94 C148.00 199.80 148.50 199.66 149.00 199.52 C149.50 199.37 150.00 199.22 150.50 199.06 C151.00 198.90 151.50 198.74 152.00 198.57 C152.50 198.39 153.00 198.22 153.50 198.03 C154.00 197.84 154.50 197.65 155.00 197.44 C155.50 197.24 156.00 197.02 156.50 196.80 C157.00 196.58 157.50 196.35 158.00 196.10 C158.50 195.86 159.00 195.61 159.50 195.34 C160.00 195.07 160.50 194.80 161.00 194.51 C161.50 194.22 162.00 193.92 162.50 193.61 C163.00 193.29 163.50 192.96 164.00 192.62 C164.50 192.28 165.00 191.93 165.50 191.56 C166.00 191.19 166.50 190.80 167.00 190.40 C167.50 190.00 168.00 189.59 168.50 189.16 C169.00 188.73 169.50 188.28 170.00 187.81 C170.50 187.35 171.00 186.87 171.50 186.37 C172.00 185.87 172.50 185.35 173.00 184.81 C173.50 184.28 174.00 183.72 174.50 183.15 C175.00 182.57 175.50 181.98 176.00 181.36 C176.50 180.75 177.00 180.11 177.50 179.46 C178.00 178.80 178.50 178.12 179.00 177.42 C179.50 176.72 180.00 176.00 180.50 175.26 C181.00 174.51 181.50 173.75 182.00 172.97 C182.50 172.19 183.00 171.38 183.50 170.58 C184.00 169.77 184.50 168.94 185.00 168.12 C185.50 167.29 186.00 166.45 186.50 165.61 C187.00 164.78 187.50 163.93 188.00 163.09 C188.50 162.25 189.00 161.41 189.50 160.58 C190.00 159.75 190.50 158.93 191.00 158.11 C191.50 157.30 192.00 156.50 192.50 155.71 C193.00 154.92 193.50 154.15 194.00 153.40 C194.50 152.65 195.00 151.92 195.50 151.21 C196.00 150.51 196.50 149.82 197.00 149.16 C197.50 148.49 198.00 147.85 198.50 147.22 C199.00 146.59 199.50 145.98 200.00 145.38 C200.50 144.77 201.00 144.19 201.50 143.61 C202.00 143.03 202.50 142.45 203.00 141.92 C203.50 141.38 204.00 140.86 204.50 140.40 C205.00 139.94 205.50 139.52 206.00 139.18 C206.50 138.85 207.00 138.56 207.50 138.39 C208.00 138.22 208.50 138.13 209.00 138.16 C209.50 138.19 210.00 138.33 210.50 138.56 C211.00 138.79 211.50 139.12 212.00 139.52 C212.50 139.91 213.00 140.40 213.50 140.94 C214.00 141.48 214.50 142.09 215.00 142.73 C215.50 143.38 216.00 144.08 216.50 144.80 C217.00 145.52 217.50 146.28 218.00 147.05 C218.50 147.82 219.00 148.62 219.50 149.43 C220.00 150.24 220.50 151.07 221.00 151.90 C221.50 152.72 222.00 153.57 222.50 154.40 C223.00 155.24 223.50 156.09 224.00 156.92 C224.50 157.75 225.00 158.58 225.50 159.39 C226.00 160.20 226.50 161.01 227.00 161.78 C227.50 162.56 228.00 163.32 228.50 164.05 C229.00 164.78 229.50 165.49 230.00 166.16 C230.50 166.83 231.00 167.46 231.50 168.07 C232.00 168.67 232.50 169.25 233.00 169.80 C233.50 170.34 234.00 170.86 234.50 171.36 C235.00 171.86 235.50 172.34 236.00 172.80 C236.50 173.26 237.00 173.69 237.50 174.12 C238.00 174.54 238.50 174.95 239.00 175.35 C239.50 175.75 240.00 176.13 240.50 176.51 C241.00 176.90 241.50 177.27 242.00 177.63 C242.50 178.00 243.00 178.36 243.50 178.71 C244.00 179.06 244.50 179.40 245.00 179.74 C245.50 180.07 246.00 180.40 246.50 180.72 C247.00 181.04 247.50 181.36 248.00 181.66 C248.50 181.97 249.00 182.27 249.50 182.56 C250.00 182.85 250.50 183.14 251.00 183.42 C251.50 183.70 252.00 183.97 252.50 184.23 C253.00 184.50 253.50 184.75 254.00 185.00 C254.50 185.26 255.00 185.50 255.50 185.74 C256.00 185.97 256.50 186.20 257.00 186.43 C257.50 186.65 258.00 186.87 258.50 187.08 C259.00 187.29 259.50 187.49 260.00 187.69 C260.50 187.88 261.00 188.07 261.50 188.26 C262.00 188.44 262.50 188.62 263.00 188.79 C263.50 188.96 264.00 189.12 264.50 189.28 C265.00 189.44 265.50 189.59 266.00 189.74 C266.50 189.88 267.00 190.02 267.50 190.16 C268.00 190.29 268.50 190.42 269.00 190.54 C269.50 190.66 270.00 190.78 270.50 190.89 C271.00 191.01 271.50 191.12 272.00 191.22 C272.50 191.32 273.00 191.42 273.50 191.51 C274.00 191.61 274.50 191.70 275.00 191.78 C275.50 191.87 276.00 191.95 276.50 192.03 C277.00 192.10 277.50 192.18 278.00 192.25 C278.50 192.32 279.00 192.39 279.50 192.45 C280.00 192.51 280.50 192.58 281.00 192.63 C281.50 192.69 282.00 192.75 282.50 192.80 C283.00 192.85 283.50 192.90 284.00 192.95 C284.50 193.00 285.00 193.05 285.50 193.09 C286.00 193.13 286.50 193.18 287.00 193.22 C287.50 193.26 288.00 193.30 288.50 193.34 C289.00 193.37 289.50 193.41 290.00 193.45 C290.50 193.48 291.00 193.52 291.50 193.55 C292.00 193.59 292.50 193.62 293.00 193.66 C293.50 193.69 294.00 193.73 294.50 193.76 C295.00 193.79 295.50 193.83 296.00 193.86 C296.50 193.90 297.00 193.93 297.50 193.96 C298.00 194.00 298.50 194.03 299.00 194.07 C299.50 194.10 300.00 194.14 300.50 194.17 C301.00 194.21 301.50 194.24 302.00 194.28 C302.50 194.32 303.00 194.35 303.50 194.39 C304.00 194.42 304.50 194.46 305.00 194.50 C305.50 194.53 306.00 194.57 306.50 194.60 C307.00 194.64 307.50 194.68 308.00 194.71 C308.50 194.75 309.00 194.79 309.50 194.82 C310.00 194.86 310.50 194.90 311.00 194.93 C311.50 194.97 312.00 195.01 312.50 195.04 C313.00 195.08 313.50 195.12 314.00 195.15 C314.50 195.19 315.00 195.23 315.50 195.27 C316.00 195.30 316.50 195.34 317.00 195.38 C317.50 195.41 318.00 195.45 318.50 195.49 C319.00 195.53 319.50 195.56 320.00 195.60 C320.50 195.64 321.00 195.67 321.50 195.71 C322.00 195.75 322.50 195.79 323.00 195.82 C323.50 195.86 324.00 195.90 324.50 195.93 C325.00 195.97 325.50 196.01 326.00 196.04 C326.50 196.08 327.00 196.12 327.50 196.15 C328.00 196.19 328.50 196.23 329.00 196.26 C329.50 196.30 330.00 196.34 330.50 196.37 C331.00 196.41 331.50 196.45 332.00 196.48 C332.50 196.52 333.00 196.56 333.50 196.59 C334.00 196.63 334.50 196.66 335.00 196.70 C335.50 196.73 336.00 196.77 336.50 196.81 C337.00 196.84 337.50 196.88 338.00 196.91 C338.50 196.95 339.00 196.98 339.50 197.02 C340.00 197.05 340.50 197.09 341.00 197.12 C341.50 197.16 342.00 197.19 342.50 197.22 C343.00 197.26 343.50 197.29 344.00 197.33 C344.50 197.36 345.00 197.39 345.50 197.43 C346.00 197.46 346.50 197.49 347.00 197.53 C347.50 197.56 348.00 197.59 348.50 197.62 C349.00 197.66 349.50 197.69 350.00 197.72 C350.50 197.75 351.00 197.78 351.50 197.81 C352.00 197.85 352.50 197.88 353.00 197.91 C353.50 197.94 354.00 197.97 354.50 198.00 C355.00 198.03 355.50 198.06 356.00 198.09 C356.50 198.12 357.00 198.15 357.50 198.18 C358.00 198.21 358.50 198.24 359.00 198.26 C359.50 198.29 360.00 198.32 360.50 198.35 C361.00 198.38 361.50 198.40 362.00 198.43 C362.50 198.46 363.00 198.48 363.50 198.51 C364.00 198.54 364.50 198.56 365.00 198.59 C365.50 198.61 366.00 198.64 366.50 198.66 C367.00 198.69 367.50 198.71 368.00 198.74 C368.50 198.76 369.00 198.78 369.50 198.81 C370.00 198.83 370.50 198.85 371.00 198.88 C371.50 198.90 372.00 198.92 372.50 198.94 C373.00 198.96 373.50 198.98 374.00 199.01 C374.50 199.03 375.00 199.05 375.50 199.07 C376.00 199.09 376.50 199.10 377.00 199.12 C377.50 199.14 378.00 199.16 378.50 199.18 C379.00 199.20 379.50 199.21 380.00 199.23 C380.50 199.25 381.00 199.26 381.50 199.28 C382.00 199.29 382.50 199.31 383.00 199.32 C383.50 199.34 384.00 199.35 384.50 199.37 C385.00 199.38 385.50 199.39 386.00 199.41 C386.50 199.42 387.00 199.43 387.50 199.44 C388.00 199.45 388.50 199.47 389.00 199.48 C389.50 199.49 390.00 199.50 390.50 199.51 C391.00 199.51 391.50 199.52 392.00 199.53 C392.50 199.54 393.00 199.55 393.50 199.55 C394.00 199.56 394.58 199.57 395.00 199.57 C395.42 199.58 395.83 199.58 396.00 199.58" fill="none" stroke="#00B050" stroke-width="3.00" stroke-linecap="round" stroke-linejoin="round"/>
<path d="M173.00 205.74 C173.25 205.72 174.00 205.68 174.50 205.65 C175.00 205.63 175.50 205.60 176.00 205.58 C176.50 205.55 177.00 205.53 177.50 205.51 C178.00 205.49 178.50 205.46 179.00 205.44 C179.50 205.42 180.00 205.40 180.50 205.38 C181.00 205.36 181.50 205.35 182.00 205.33 C182.50 205.31 183.00 205.29 183.50 205.28 C184.00 205.26 184.50 205.24 185.00 205.23 C185.50 205.21 186.00 205.20 186.50 205.18 C187.00 205.17 187.50 205.15 188.00 205.14 C188.50 205.12 189.00 205.11 189.50 205.09 C190.00 205.08 190.50 205.06 191.00 205.05 C191.50 205.04 192.00 205.02 192.50 205.01 C193.00 204.99 193.50 204.98 194.00 204.96 C194.50 204.95 195.00 204.93 195.50 204.91 C196.00 204.90 196.50 204.88 197.00 204.86 C197.50 204.85 198.00 204.83 198.50 204.81 C199.00 204.79 199.50 204.77 200.00 204.75 C200.50 204.73 201.00 204.71 201.50 204.69 C202.00 204.67 202.50 204.65 203.00 204.63 C203.50 204.60 204.00 204.58 204.50 204.55 C205.00 204.53 205.50 204.50 206.00 204.47 C206.50 204.45 207.00 204.42 207.50 204.39 C208.00 204.36 208.50 204.32 209.00 204.29 C209.50 204.26 210.00 204.22 210.50 204.19 C211.00 204.15 211.50 204.11 212.00 204.07 C212.50 204.04 213.00 203.99 213.50 203.95 C214.00 203.91 214.50 203.86 215.00 203.82 C215.50 203.77 216.00 203.72 216.50 203.67 C217.00 203.62 217.50 203.57 218.00 203.51 C218.50 203.46 219.00 203.40 219.50 203.34 C220.00 203.29 220.50 203.22 221.00 203.16 C221.50 203.10 222.00 203.03 222.50 202.96 C223.00 202.89 223.50 202.82 224.00 202.75 C224.50 202.68 225.00 202.60 225.50 202.52 C226.00 202.44 226.50 202.36 227.00 202.28 C227.50 202.19 228.00 202.11 228.50 202.02 C229.00 201.93 229.50 201.83 230.00 201.74 C230.50 201.64 231.00 201.54 231.50 201.44 C232.00 201.34 232.50 201.23 233.00 201.12 C233.50 201.01 234.00 200.90 234.50 200.79 C235.00 200.67 235.50 200.55 236.00 200.43 C236.50 200.31 237.00 200.18 237.50 200.05 C238.00 199.92 238.50 199.79 239.00 199.65 C239.50 199.52 240.00 199.37 240.50 199.23 C241.00 199.09 241.50 198.94 242.00 198.79 C242.50 198.63 243.00 198.48 243.50 198.32 C244.00 198.16 244.50 197.99 245.00 197.82 C245.50 197.65 246.00 197.48 246.50 197.30 C247.00 197.12 247.50 196.94 248.00 196.76 C248.50 196.57 249.00 196.38 249.50 196.18 C250.00 195.98 250.50 195.78 251.00 195.57 C251.50 195.37 252.00 195.15 252.50 194.94 C253.00 194.72 253.50 194.50 254.00 194.27 C254.50 194.04 255.00 193.81 255.50 193.57 C256.00 193.33 256.50 193.08 257.00 192.83 C257.50 192.58 258.00 192.32 258.50 192.06 C259.00 191.79 259.50 191.53 260.00 191.25 C260.50 190.97 261.00 190.69 261.50 190.40 C262.00 190.12 262.50 189.82 263.00 189.52 C263.50 189.22 264.00 188.91 264.50 188.59 C265.00 188.28 265.50 187.96 266.00 187.63 C266.50 187.30 267.00 186.96 267.50 186.62 C268.00 186.28 268.50 185.93 269.00 185.57 C269.50 185.21 270.00 184.85 270.50 184.47 C271.00 184.10 271.50 183.72 272.00 183.33 C272.50 182.94 273.00 182.55 273.50 182.14 C274.00 181.74 274.50 181.33 275.00 180.91 C275.50 180.49 276.00 180.06 276.50 179.62 C277.00 179.19 277.50 178.74 278.00 178.29 C278.50 177.84 279.00 177.39 279.50 176.92 C280.00 176.46 280.50 175.99 281.00 175.51 C281.50 175.03 282.00 174.54 282.50 174.05 C283.00 173.56 283.50 173.06 284.00 172.56 C284.50 172.05 285.00 171.54 285.50 171.02 C286.00 170.51 286.50 169.98 287.00 169.45 C287.50 168.92 288.00 168.39 288.50 167.85 C289.00 167.31 289.50 166.76 290.00 166.21 C290.50 165.66 291.00 165.10 291.50 164.55 C292.00 163.99 292.50 163.42 293.00 162.86 C293.50 162.29 294.00 161.72 294.50 161.15 C295.00 160.58 295.50 160.01 296.00 159.43 C296.50 158.86 297.00 158.28 297.50 157.70 C298.00 157.13 298.50 156.55 299.00 155.97 C299.50 155.39 300.00 154.81 300.50 154.23 C301.00 153.65 301.50 153.08 302.00 152.50 C302.50 151.92 303.00 151.35 303.50 150.78 C304.00 150.20 304.50 149.63 305.00 149.05 C305.50 148.46 306.00 147.87 306.50 147.26 C307.00 146.64 307.50 146.01 308.00 145.34 C308.50 144.67 309.00 143.98 309.50 143.23 C310.00 142.49 310.50 141.70 311.00 140.88 C311.50 140.06 312.00 139.19 312.50 138.30 C313.00 137.40 313.50 136.47 314.00 135.52 C314.50 134.57 315.00 133.58 315.50 132.58 C316.00 131.58 316.50 130.55 317.00 129.52 C317.50 128.48 318.00 127.42 318.50 126.37 C319.00 125.31 319.50 124.24 320.00 123.17 C320.50 122.09 321.00 121.04 321.50 119.92 C322.00 118.80 322.50 117.68 323.00 116.43 C323.50 115.19 324.00 113.91 324.50 112.45 C325.00 111.00 325.50 109.47 326.00 107.72 C326.50 105.97 327.00 104.09 327.50 101.96 C328.00 99.83 328.50 97.48 329.00 94.93 C329.50 92.38 330.00 89.45 330.50 86.66 C331.00 83.88 331.50 80.85 332.00 78.22 C332.50 75.59 333.00 72.98 333.50 70.87 C334.00 68.76 334.50 66.94 335.00 65.56 C335.50 64.17 336.00 63.14 336.50 62.54 C337.00 61.95 337.50 61.77 338.00 62.00 C338.50 62.24 339.00 62.94 339.50 63.97 C340.00 64.99 340.50 66.48 341.00 68.16 C341.50 69.83 342.00 71.90 342.50 74.03 C343.00 76.16 343.50 78.57 344.00 80.93 C344.50 83.29 345.00 85.87 345.50 88.21 C346.00 90.54 346.50 92.97 347.00 94.93 C347.50 96.90 348.00 98.51 348.50 100.00 C349.00 101.48 349.50 102.60 350.00 103.84 C350.50 105.08 351.00 106.26 351.50 107.43 C352.00 108.59 352.50 109.72 353.00 110.83 C353.50 111.93 354.00 113.00 354.50 114.05 C355.00 115.10 355.50 116.12 356.00 117.11 C356.50 118.11 357.00 119.08 357.50 120.02 C358.00 120.97 358.50 121.89 359.00 122.79 C359.50 123.69 360.00 124.56 360.50 125.41 C361.00 126.27 361.50 127.10 362.00 127.91 C362.50 128.72 363.00 129.51 363.50 130.28 C364.00 131.05 364.50 131.80 365.00 132.53 C365.50 133.26 366.00 133.98 366.50 134.67 C367.00 135.37 367.50 136.05 368.00 136.72 C368.50 137.38 369.00 138.03 369.50 138.66 C370.00 139.30 370.50 139.92 371.00 140.52 C371.50 141.13 372.00 141.72 372.50 142.30 C373.00 142.88 373.50 143.45 374.00 144.01 C374.50 144.57 375.00 145.11 375.50 145.65 C376.00 146.19 376.50 146.71 377.00 147.23 C377.50 147.75 378.00 148.26 378.50 148.76 C379.00 149.26 379.50 149.76 380.00 150.25 C380.50 150.73 381.00 151.21 381.50 151.68 C382.00 152.16 382.50 152.62 383.00 153.07 C383.50 153.53 384.00 153.97 384.50 154.40 C385.00 154.84 385.50 155.26 386.00 155.68 C386.50 156.09 387.00 156.50 387.50 156.89 C388.00 157.28 388.50 157.66 389.00 158.03 C389.50 158.40 390.00 158.75 390.50 159.10 C391.00 159.44 391.50 159.77 392.00 160.09 C392.50 160.41 393.00 160.71 393.50 161.00 C394.00 161.29 394.58 161.61 395.00 161.83 C395.42 162.05 395.83 162.25 396.00 162.33" fill="none" stroke="#00B050" stroke-width="3.00" stroke-linecap="round" stroke-linejoin="round" stroke-dasharray="5.9 5.15" stroke-dashoffset="-1.20"/>
</g>
<g clip-path="url(#cr)">
<path d="M470.50 42.76 C470.75 42.82 471.50 43.02 472.00 43.15 C472.50 43.28 473.00 43.41 473.50 43.55 C474.00 43.68 474.50 43.82 475.00 43.96 C475.50 44.10 476.00 44.25 476.50 44.39 C477.00 44.54 477.50 44.69 478.00 44.84 C478.50 45.00 479.00 45.15 479.50 45.32 C480.00 45.48 480.50 45.65 481.00 45.82 C481.50 45.99 482.00 46.17 482.50 46.35 C483.00 46.54 483.50 46.72 484.00 46.92 C484.50 47.12 485.00 47.32 485.50 47.53 C486.00 47.73 486.50 47.95 487.00 48.17 C487.50 48.40 488.00 48.63 488.50 48.87 C489.00 49.10 489.50 49.35 490.00 49.61 C490.50 49.86 491.00 50.13 491.50 50.40 C492.00 50.67 492.50 50.96 493.00 51.25 C493.50 51.54 494.00 51.85 494.50 52.16 C495.00 52.47 495.50 52.80 496.00 53.13 C496.50 53.47 497.00 53.81 497.50 54.17 C498.00 54.53 498.50 54.90 499.00 55.28 C499.50 55.66 500.00 56.05 500.50 56.46 C501.00 56.87 501.50 57.29 502.00 57.72 C502.50 58.15 503.00 58.60 503.50 59.06 C504.00 59.52 504.50 59.99 505.00 60.49 C505.50 60.98 506.00 61.48 506.50 62.02 C507.00 62.56 507.50 63.12 508.00 63.73 C508.50 64.33 509.00 64.97 509.50 65.67 C510.00 66.37 510.50 67.11 511.00 67.92 C511.50 68.73 512.00 69.60 512.50 70.55 C513.00 71.49 513.50 72.51 514.00 73.61 C514.50 74.71 515.00 75.92 515.50 77.16 C516.00 78.40 516.50 79.74 517.00 81.08 C517.50 82.41 518.00 83.80 518.50 85.18 C519.00 86.55 519.50 87.96 520.00 89.35 C520.50 90.75 521.00 92.16 521.50 93.56 C522.00 94.95 522.50 96.35 523.00 97.73 C523.50 99.11 524.00 100.49 524.50 101.84 C525.00 103.18 525.50 104.51 526.00 105.81 C526.50 107.11 527.00 108.37 527.50 109.62 C528.00 110.87 528.50 112.08 529.00 113.29 C529.50 114.50 530.00 115.68 530.50 116.87 C531.00 118.06 531.50 119.23 532.00 120.41 C532.50 121.59 533.00 122.76 533.50 123.95 C534.00 125.14 534.50 126.34 535.00 127.53 C535.50 128.72 536.00 129.93 536.50 131.10 C537.00 132.27 537.50 133.45 538.00 134.57 C538.50 135.70 539.00 136.82 539.50 137.87 C540.00 138.93 540.50 139.96 541.00 140.91 C541.50 141.87 542.00 142.78 542.50 143.61 C543.00 144.44 543.50 145.22 544.00 145.89 C544.50 146.57 545.00 147.17 545.50 147.67 C546.00 148.17 546.50 148.58 547.00 148.89 C547.50 149.21 548.00 149.43 548.50 149.54 C549.00 149.65 549.50 149.67 550.00 149.58 C550.50 149.48 551.00 149.29 551.50 148.98 C552.00 148.67 552.50 148.25 553.00 147.71 C553.50 147.18 554.00 146.52 554.50 145.76 C555.00 145.00 555.50 144.12 556.00 143.17 C556.50 142.21 557.00 141.15 557.50 140.03 C558.00 138.91 558.50 137.70 559.00 136.45 C559.50 135.20 560.00 133.86 560.50 132.53 C561.00 131.20 561.50 129.81 562.00 128.49 C562.50 127.17 563.00 125.84 563.50 124.61 C564.00 123.38 564.50 122.21 565.00 121.09 C565.50 119.98 566.00 118.93 566.50 117.94 C567.00 116.94 567.50 116.00 568.00 115.11 C568.50 114.22 569.00 113.38 569.50 112.59 C570.00 111.79 570.50 111.05 571.00 110.34 C571.50 109.63 572.00 108.97 572.50 108.33 C573.00 107.70 573.50 107.11 574.00 106.54 C574.50 105.98 575.00 105.45 575.50 104.94 C576.00 104.43 576.50 103.95 577.00 103.49 C577.50 103.02 578.00 102.59 578.50 102.15 C579.00 101.72 579.50 101.31 580.00 100.89 C580.50 100.47 581.00 100.07 581.50 99.65 C582.00 99.24 582.50 98.83 583.00 98.40 C583.50 97.98 584.00 97.55 584.50 97.09 C585.00 96.64 585.57 96.11 586.00 95.68 C586.43 95.26 586.92 94.75 587.10 94.56" fill="none" stroke="#002060" stroke-width="3.00" stroke-linecap="round" stroke-linejoin="round"/>
<path d="M470.50 40.04 C470.75 40.04 471.50 40.06 472.00 40.07 C472.50 40.08 473.00 40.09 473.50 40.10 C474.00 40.12 474.50 40.13 475.00 40.15 C475.50 40.16 476.00 40.18 476.50 40.20 C477.00 40.22 477.50 40.24 478.00 40.26 C478.50 40.28 479.00 40.30 479.50 40.33 C480.00 40.35 480.50 40.37 481.00 40.40 C481.50 40.42 482.00 40.45 482.50 40.48 C483.00 40.51 483.50 40.54 484.00 40.57 C484.50 40.60 485.00 40.63 485.50 40.66 C486.00 40.69 486.50 40.73 487.00 40.76 C487.50 40.80 488.00 40.83 488.50 40.87 C489.00 40.90 489.50 40.94 490.00 40.98 C490.50 41.02 491.00 41.06 491.50 41.10 C492.00 41.14 492.50 41.18 493.00 41.22 C493.50 41.27 494.00 41.31 494.50 41.35 C495.00 41.40 495.50 41.44 496.00 41.49 C496.50 41.54 497.00 41.58 497.50 41.63 C498.00 41.68 498.50 41.73 499.00 41.78 C499.50 41.83 500.00 41.88 500.50 41.93 C501.00 41.98 501.50 42.03 502.00 42.09 C502.50 42.14 503.00 42.19 503.50 42.25 C504.00 42.30 504.50 42.36 505.00 42.41 C505.50 42.47 506.00 42.52 506.50 42.58 C507.00 42.64 507.50 42.70 508.00 42.76 C508.50 42.82 509.00 42.88 509.50 42.94 C510.00 43.00 510.50 43.06 511.00 43.12 C511.50 43.18 512.00 43.24 512.50 43.30 C513.00 43.37 513.50 43.43 514.00 43.50 C514.50 43.56 515.00 43.62 515.50 43.69 C516.00 43.76 516.50 43.83 517.00 43.90 C517.50 43.97 518.00 44.04 518.50 44.12 C519.00 44.19 519.50 44.27 520.00 44.36 C520.50 44.44 521.00 44.53 521.50 44.62 C522.00 44.71 522.50 44.81 523.00 44.91 C523.50 45.01 524.00 45.11 524.50 45.23 C525.00 45.34 525.50 45.46 526.00 45.58 C526.50 45.70 527.00 45.83 527.50 45.97 C528.00 46.11 528.50 46.26 529.00 46.41 C529.50 46.56 530.00 46.72 530.50 46.89 C531.00 47.06 531.50 47.24 532.00 47.43 C532.50 47.62 533.00 47.81 533.50 48.02 C534.00 48.23 534.50 48.45 535.00 48.67 C535.50 48.90 536.00 49.14 536.50 49.39 C537.00 49.64 537.50 49.90 538.00 50.17 C538.50 50.45 539.00 50.73 539.50 51.03 C540.00 51.33 540.50 51.64 541.00 51.96 C541.50 52.29 542.00 52.63 542.50 52.98 C543.00 53.33 543.50 53.70 544.00 54.08 C544.50 54.46 545.00 54.86 545.50 55.27 C546.00 55.68 546.50 56.11 547.00 56.55 C547.50 56.99 548.00 57.45 548.50 57.93 C549.00 58.41 549.50 58.90 550.00 59.41 C550.50 59.93 551.00 60.46 551.50 61.02 C552.00 61.58 552.50 62.16 553.00 62.77 C553.50 63.38 554.00 64.02 554.50 64.69 C555.00 65.36 555.50 66.06 556.00 66.79 C556.50 67.53 557.00 68.30 557.50 69.11 C558.00 69.92 558.50 70.76 559.00 71.66 C559.50 72.55 560.00 73.49 560.50 74.48 C561.00 75.47 561.50 76.51 562.00 77.61 C562.50 78.71 563.00 79.86 563.50 81.08 C564.00 82.30 564.50 83.57 565.00 84.92 C565.50 86.27 566.00 87.69 566.50 89.18 C567.00 90.68 567.50 92.24 568.00 93.89 C568.50 95.54 569.00 97.26 569.50 99.07 C570.00 100.89 570.50 102.78 571.00 104.78 C571.50 106.77 572.00 108.83 572.50 111.04 C573.00 113.25 573.50 115.53 574.00 118.05 C574.50 120.56 575.00 123.20 575.50 126.13 C576.00 129.06 576.50 132.23 577.00 135.64 C577.50 139.06 578.00 142.92 578.50 146.62 C579.00 150.32 579.50 154.30 580.00 157.85 C580.50 161.39 581.00 164.72 581.50 167.89 C582.00 171.05 582.50 173.82 583.00 176.85 C583.50 179.88 584.00 183.08 584.50 186.06 C585.00 189.04 585.50 192.92 586.00 194.72 C586.50 196.51 587.00 197.48 587.50 196.83 C588.00 196.18 588.50 192.82 589.00 190.80 C589.50 188.78 590.00 187.01 590.50 184.71 C591.00 182.41 591.50 180.15 592.00 176.99 C592.50 173.82 593.00 169.59 593.50 165.71 C594.00 161.83 594.50 157.17 595.00 153.73 C595.50 150.28 596.00 147.49 596.50 145.03 C597.00 142.57 597.50 140.87 598.00 138.97 C598.50 137.06 599.00 135.31 599.50 133.59 C600.00 131.88 600.50 130.23 601.00 128.66 C601.50 127.08 602.00 125.57 602.50 124.13 C603.00 122.69 603.50 121.32 604.00 120.01 C604.50 118.69 605.00 117.45 605.50 116.26 C606.00 115.06 606.50 113.94 607.00 112.86 C607.50 111.78 608.00 110.76 608.50 109.79 C609.00 108.82 609.50 107.91 610.00 107.03 C610.50 106.16 611.00 105.34 611.50 104.55 C612.00 103.77 612.50 103.03 613.00 102.33 C613.50 101.63 614.00 100.97 614.50 100.34 C615.00 99.71 615.50 99.12 616.00 98.56 C616.50 98.00 617.00 97.47 617.50 96.97 C618.00 96.46 618.50 95.99 619.00 95.53 C619.50 95.07 620.00 94.65 620.50 94.23 C621.00 93.82 621.50 93.43 622.00 93.04 C622.50 92.66 623.00 92.30 623.50 91.94 C624.00 91.59 624.50 91.25 625.00 90.91 C625.50 90.58 626.00 90.26 626.50 89.94 C627.00 89.63 627.50 89.33 628.00 89.03 C628.50 88.73 629.00 88.44 629.50 88.16 C630.00 87.88 630.50 87.60 631.00 87.33 C631.50 87.06 632.00 86.80 632.50 86.54 C633.00 86.28 633.50 86.02 634.00 85.77 C634.50 85.52 635.00 85.27 635.50 85.03 C636.00 84.78 636.50 84.54 637.00 84.29 C637.50 84.05 638.00 83.81 638.50 83.57 C639.00 83.33 639.50 83.09 640.00 82.85 C640.50 82.61 641.00 82.36 641.50 82.12 C642.00 81.88 642.50 81.64 643.00 81.40 C643.50 81.16 644.00 80.92 644.50 80.68 C645.00 80.44 645.50 80.20 646.00 79.96 C646.50 79.72 647.00 79.48 647.50 79.24 C648.00 79.00 648.50 78.77 649.00 78.53 C649.50 78.29 650.00 78.06 650.50 77.83 C651.00 77.59 651.50 77.36 652.00 77.13 C652.50 76.90 653.00 76.67 653.50 76.45 C654.00 76.22 654.50 75.99 655.00 75.77 C655.50 75.55 656.00 75.33 656.50 75.11 C657.00 74.89 657.50 74.67 658.00 74.46 C658.50 74.25 659.00 74.04 659.50 73.83 C660.00 73.62 660.50 73.41 661.00 73.21 C661.50 73.01 662.00 72.81 662.50 72.61 C663.00 72.41 663.50 72.22 664.00 72.03 C664.50 71.84 665.00 71.65 665.50 71.47 C666.00 71.29 666.50 71.11 667.00 70.93 C667.50 70.76 668.00 70.59 668.50 70.42 C669.00 70.25 669.50 70.09 670.00 69.93 C670.50 69.77 671.00 69.62 671.50 69.47 C672.00 69.32 672.50 69.17 673.00 69.03 C673.50 68.89 674.00 68.75 674.50 68.62 C675.00 68.49 675.50 68.37 676.00 68.25 C676.50 68.12 677.00 68.01 677.50 67.90 C678.00 67.79 678.50 67.69 679.00 67.59 C679.50 67.49 680.00 67.40 680.50 67.31 C681.00 67.22 681.65 67.12 682.00 67.07 C682.35 67.01 682.50 66.99 682.60 66.98" fill="none" stroke="#C00000" stroke-width="3.00" stroke-linecap="round" stroke-linejoin="round"/>
<path d="M470.50 40.06 C470.75 40.06 471.50 40.05 472.00 40.04 C472.50 40.03 473.00 40.03 473.50 40.02 C474.00 40.02 474.50 40.01 475.00 40.01 C475.50 40.01 476.00 40.00 476.50 40.00 C477.00 40.00 477.50 40.00 478.00 40.00 C478.50 40.00 479.00 40.00 479.50 40.00 C480.00 40.00 480.50 40.00 481.00 40.01 C481.50 40.01 482.00 40.01 482.50 40.02 C483.00 40.02 483.50 40.03 484.00 40.03 C484.50 40.04 485.00 40.05 485.50 40.05 C486.00 40.06 486.50 40.07 487.00 40.08 C487.50 40.08 488.00 40.09 488.50 40.10 C489.00 40.11 489.50 40.12 490.00 40.13 C490.50 40.14 491.00 40.15 491.50 40.16 C492.00 40.17 492.50 40.19 493.00 40.20 C493.50 40.21 494.00 40.22 494.50 40.23 C495.00 40.25 495.50 40.26 496.00 40.27 C496.50 40.29 497.00 40.30 497.50 40.31 C498.00 40.33 498.50 40.34 499.00 40.35 C499.50 40.37 500.00 40.38 500.50 40.40 C501.00 40.41 501.50 40.43 502.00 40.44 C502.50 40.46 503.00 40.47 503.50 40.49 C504.00 40.50 504.50 40.52 505.00 40.53 C505.50 40.55 506.00 40.56 506.50 40.58 C507.00 40.59 507.50 40.61 508.00 40.62 C508.50 40.64 509.00 40.65 509.50 40.67 C510.00 40.68 510.50 40.69 511.00 40.71 C511.50 40.72 512.00 40.74 512.50 40.75 C513.00 40.77 513.50 40.78 514.00 40.79 C514.50 40.81 515.00 40.82 515.50 40.84 C516.00 40.85 516.50 40.86 517.00 40.87 C517.50 40.89 518.00 40.90 518.50 40.91 C519.00 40.92 519.50 40.94 520.00 40.95 C520.50 40.96 521.00 40.97 521.50 40.98 C522.00 40.99 522.50 41.00 523.00 41.01 C523.50 41.02 524.00 41.03 524.50 41.04 C525.00 41.05 525.50 41.06 526.00 41.07 C526.50 41.09 527.00 41.10 527.50 41.11 C528.00 41.12 528.50 41.14 529.00 41.15 C529.50 41.17 530.00 41.19 530.50 41.20 C531.00 41.22 531.50 41.24 532.00 41.27 C532.50 41.29 533.00 41.31 533.50 41.34 C534.00 41.36 534.50 41.39 535.00 41.42 C535.50 41.46 536.00 41.49 536.50 41.53 C537.00 41.56 537.50 41.60 538.00 41.65 C538.50 41.69 539.00 41.74 539.50 41.79 C540.00 41.84 540.50 41.89 541.00 41.95 C541.50 42.01 542.00 42.07 542.50 42.14 C543.00 42.20 543.50 42.27 544.00 42.35 C544.50 42.42 545.00 42.50 545.50 42.59 C546.00 42.67 546.50 42.76 547.00 42.86 C547.50 42.95 548.00 43.05 548.50 43.16 C549.00 43.27 549.50 43.38 550.00 43.49 C550.50 43.61 551.00 43.74 551.50 43.87 C552.00 43.99 552.50 44.13 553.00 44.27 C553.50 44.42 554.00 44.57 554.50 44.72 C555.00 44.88 555.50 45.04 556.00 45.21 C556.50 45.38 557.00 45.56 557.50 45.75 C558.00 45.93 558.50 46.12 559.00 46.32 C559.50 46.53 560.00 46.73 560.50 46.95 C561.00 47.16 561.50 47.39 562.00 47.62 C562.50 47.85 563.00 48.08 563.50 48.33 C564.00 48.57 564.50 48.82 565.00 49.08 C565.50 49.33 566.00 49.59 566.50 49.86 C567.00 50.13 567.50 50.41 568.00 50.69 C568.50 50.97 569.00 51.25 569.50 51.54 C570.00 51.84 570.50 52.13 571.00 52.43 C571.50 52.74 572.00 53.04 572.50 53.36 C573.00 53.67 573.50 53.98 574.00 54.30 C574.50 54.63 575.00 54.95 575.50 55.28 C576.00 55.61 576.50 55.94 577.00 56.28 C577.50 56.62 578.00 56.96 578.50 57.31 C579.00 57.65 579.50 58.00 580.00 58.36 C580.50 58.71 581.00 59.07 581.50 59.43 C582.00 59.79 582.50 60.15 583.00 60.52 C583.50 60.88 584.00 61.25 584.50 61.62 C585.00 62.00 585.50 62.37 586.00 62.75 C586.50 63.13 587.00 63.51 587.50 63.90 C588.00 64.29 588.50 64.68 589.00 65.08 C589.50 65.48 590.00 65.88 590.50 66.30 C591.00 66.71 591.50 67.13 592.00 67.56 C592.50 67.98 593.00 68.42 593.50 68.86 C594.00 69.31 594.50 69.76 595.00 70.23 C595.50 70.69 596.00 71.16 596.50 71.65 C597.00 72.14 597.50 72.63 598.00 73.14 C598.50 73.65 599.00 74.18 599.50 74.71 C600.00 75.25 600.50 75.80 601.00 76.36 C601.50 76.93 602.00 77.50 602.50 78.10 C603.00 78.69 603.50 79.30 604.00 79.93 C604.50 80.56 605.00 81.20 605.50 81.86 C606.00 82.52 606.50 83.20 607.00 83.90 C607.50 84.60 608.00 85.32 608.50 86.06 C609.00 86.80 609.50 87.56 610.00 88.35 C610.50 89.14 611.00 89.95 611.50 90.79 C612.00 91.63 612.50 92.49 613.00 93.38 C613.50 94.28 614.00 95.19 614.50 96.15 C615.00 97.10 615.50 98.04 616.00 99.11 C616.50 100.18 617.00 101.25 617.50 102.59 C618.00 103.92 618.50 105.37 619.00 107.12 C619.50 108.88 620.00 110.94 620.50 113.13 C621.00 115.31 621.50 117.79 622.00 120.22 C622.50 122.66 623.00 125.28 623.50 127.74 C624.00 130.21 624.50 132.74 625.00 135.02 C625.50 137.31 626.00 139.55 626.50 141.46 C627.00 143.37 627.50 145.14 628.00 146.47 C628.50 147.81 629.00 148.96 629.50 149.46 C630.00 149.97 630.50 149.98 631.00 149.48 C631.50 148.99 632.00 147.77 632.50 146.50 C633.00 145.23 633.50 143.54 634.00 141.87 C634.50 140.20 635.00 138.27 635.50 136.48 C636.00 134.69 636.50 132.79 637.00 131.12 C637.50 129.45 638.00 127.88 638.50 126.47 C639.00 125.06 639.50 123.81 640.00 122.65 C640.50 121.49 641.00 120.46 641.50 119.51 C642.00 118.55 642.50 117.71 643.00 116.91 C643.50 116.11 644.00 115.40 644.50 114.71 C645.00 114.02 645.50 113.39 646.00 112.76 C646.50 112.13 647.00 111.53 647.50 110.93 C648.00 110.33 648.50 109.74 649.00 109.16 C649.50 108.58 650.00 108.01 650.50 107.45 C651.00 106.89 651.50 106.34 652.00 105.80 C652.50 105.25 653.00 104.72 653.50 104.20 C654.00 103.67 654.50 103.15 655.00 102.65 C655.50 102.14 656.00 101.64 656.50 101.15 C657.00 100.66 657.50 100.17 658.00 99.70 C658.50 99.22 659.00 98.75 659.50 98.29 C660.00 97.83 660.50 97.37 661.00 96.93 C661.50 96.48 662.00 96.04 662.50 95.60 C663.00 95.17 663.50 94.74 664.00 94.32 C664.50 93.90 665.00 93.48 665.50 93.07 C666.00 92.66 666.50 92.26 667.00 91.86 C667.50 91.46 668.00 91.07 668.50 90.68 C669.00 90.29 669.50 89.91 670.00 89.53 C670.50 89.15 671.00 88.77 671.50 88.40 C672.00 88.03 672.50 87.67 673.00 87.31 C673.50 86.94 674.00 86.59 674.50 86.23 C675.00 85.88 675.50 85.53 676.00 85.18 C676.50 84.83 677.00 84.49 677.50 84.15 C678.00 83.81 678.50 83.47 679.00 83.13 C679.50 82.79 680.00 82.46 680.50 82.13 C681.00 81.80 681.65 81.37 682.00 81.14 C682.35 80.91 682.50 80.81 682.60 80.75" fill="none" stroke="#00B050" stroke-width="3.00" stroke-linecap="round" stroke-linejoin="round"/>
</g>
<line x1="54.8" y1="14.0" x2="90.2" y2="14.0" stroke="#002060" stroke-width="3.00" stroke-linecap="round"/>
<text transform="translate(93.20,18.85) scale(0.9330,1)" font-size="13.30" class="b" text-anchor="start">Tti=7.5nm, na=1.38</text>
<line x1="235.4" y1="14.0" x2="270.9" y2="14.0" stroke="#002060" stroke-width="3.00" stroke-linecap="round" stroke-dasharray="5.9 5.15"/>
<text transform="translate(274.40,18.85) scale(0.9330,1)" font-size="13.30" class="b" text-anchor="start">Tti=7.5nm, na=1.39</text>
<line x1="54.8" y1="30.4" x2="90.2" y2="30.4" stroke="#C00000" stroke-width="3.00" stroke-linecap="round"/>
<text transform="translate(93.20,34.30) scale(0.9330,1)" font-size="13.30" class="b" text-anchor="start">Tti=10nm, na=1.38</text>
<line x1="235.4" y1="30.4" x2="270.9" y2="30.4" stroke="#C00000" stroke-width="3.00" stroke-linecap="round" stroke-dasharray="5.9 5.15"/>
<text transform="translate(274.40,34.30) scale(0.9330,1)" font-size="13.30" class="b" text-anchor="start">Tti=10nm, na=1.39</text>
<line x1="54.8" y1="46.1" x2="90.2" y2="46.1" stroke="#00B050" stroke-width="3.00" stroke-linecap="round"/>
<text transform="translate(93.20,50.40) scale(0.9330,1)" font-size="13.30" class="b" text-anchor="start">Tti=12.5nm, na=1.38</text>
<line x1="235.4" y1="46.1" x2="270.9" y2="46.1" stroke="#00B050" stroke-width="3.00" stroke-linecap="round" stroke-dasharray="5.9 5.15"/>
<text transform="translate(274.40,50.40) scale(0.9330,1)" font-size="13.30" class="b" text-anchor="start">Tti=12.5nm, na=1.39</text>
<line x1="580.9" y1="15.9" x2="606.5" y2="15.9" stroke="#002060" stroke-width="3.00" stroke-linecap="round"/>
<text transform="translate(609.90,20.70) scale(0.9430,1)" font-size="12.95" class="b" text-anchor="start">Tti=7.5nm</text>
<line x1="580.9" y1="30.4" x2="606.5" y2="30.4" stroke="#C00000" stroke-width="3.00" stroke-linecap="round"/>
<text transform="translate(609.90,35.20) scale(0.9430,1)" font-size="12.95" class="b" text-anchor="start">Tti=10nm</text>
<line x1="580.9" y1="45.2" x2="606.5" y2="45.2" stroke="#00B050" stroke-width="3.00" stroke-linecap="round"/>
<text transform="translate(609.90,48.50) scale(0.9430,1)" font-size="12.95" class="b" text-anchor="start">Tti=12.5nm</text>
<text transform="translate(35.60,212.35) scale(0.9330,1)" font-size="13.30" class="b" text-anchor="end">0</text>
<text transform="translate(35.60,171.50) scale(0.9330,1)" font-size="13.30" class="b" text-anchor="end">100</text>
<text transform="translate(35.60,130.65) scale(0.9330,1)" font-size="13.30" class="b" text-anchor="end">200</text>
<text transform="translate(35.60,89.80) scale(0.9330,1)" font-size="13.30" class="b" text-anchor="end">300</text>
<text transform="translate(35.60,48.95) scale(0.9330,1)" font-size="13.30" class="b" text-anchor="end">400</text>
<text transform="translate(35.60,8.10) scale(0.9330,1)" font-size="13.30" class="b" text-anchor="end">500</text>
<text transform="translate(46.15,226.45) scale(0.9330,1)" font-size="13.30" class="b" text-anchor="middle">0.7</text>
<text transform="translate(104.32,226.45) scale(0.9330,1)" font-size="13.30" class="b" text-anchor="middle">0.75</text>
<text transform="translate(162.50,226.45) scale(0.9330,1)" font-size="13.30" class="b" text-anchor="middle">0.8</text>
<text transform="translate(220.67,226.45) scale(0.9330,1)" font-size="13.30" class="b" text-anchor="middle">0.85</text>
<text transform="translate(278.85,226.45) scale(0.9330,1)" font-size="13.30" class="b" text-anchor="middle">0.9</text>
<text transform="translate(337.02,226.45) scale(0.9330,1)" font-size="13.30" class="b" text-anchor="middle">0.95</text>
<text transform="translate(395.20,226.45) scale(0.9330,1)" font-size="13.30" class="b" text-anchor="middle">1</text>
<text transform="translate(459.60,11.20) scale(0.9430,1)" font-size="12.95" class="b" text-anchor="end">500</text>
<text transform="translate(459.60,51.48) scale(0.9430,1)" font-size="12.95" class="b" text-anchor="end">0</text>
<text transform="translate(459.60,91.76) scale(0.9430,1)" font-size="12.95" class="b" text-anchor="end">-500</text>
<text transform="translate(459.60,132.04) scale(0.9430,1)" font-size="12.95" class="b" text-anchor="end">-1000</text>
<text transform="translate(459.60,172.32) scale(0.9430,1)" font-size="12.95" class="b" text-anchor="end">-1500</text>
<text transform="translate(459.60,212.60) scale(0.9430,1)" font-size="12.95" class="b" text-anchor="end">-2000</text>
<text transform="translate(470.40,227.40) scale(0.9430,1)" font-size="12.95" class="b" text-anchor="middle">0.8</text>
<text transform="translate(523.40,227.40) scale(0.9430,1)" font-size="12.95" class="b" text-anchor="middle">0.85</text>
<text transform="translate(576.40,227.40) scale(0.9430,1)" font-size="12.95" class="b" text-anchor="middle">0.9</text>
<text transform="translate(629.40,227.40) scale(0.9430,1)" font-size="12.95" class="b" text-anchor="middle">0.95</text>
<text transform="translate(683.10,227.40) scale(0.9430,1)" font-size="12.95" class="b" text-anchor="middle">1</text>
<text transform="translate(169.50,238.90) scale(1.0000,1)" font-size="13.45" class="b" text-anchor="start" id="xt1">Wavelenght <tspan dx="1">(</tspan><tspan dx="1.8">µm)</tspan></text>
<text transform="translate(525.40,245.90) scale(1.0000,1)" font-size="13.45" class="b" text-anchor="start" id="xt2">Wavelenght <tspan dx="0.6">(</tspan><tspan dx="1.4">µm)</tspan></text>
<text transform="translate(9.1,107.35) rotate(-90)" font-size="13.45" class="b" text-anchor="middle" id="yt1">Confinement Loss (dB/cm)</text>
<text transform="translate(425.8,108.5) rotate(-90)" font-size="13.52" class="b" text-anchor="middle" id="yt2">Amplitude Sensitivity ( 1/RIU)</text>
<text transform="translate(64.40,131.75) scale(1.0000,1)" font-size="17.30" class="r" text-anchor="start" id="la">(a)</text>
<text transform="translate(484.40,138.70) scale(1.0000,1)" font-size="17.30" class="r" text-anchor="start" id="lb">(b)</text>
</svg>
</body></html>
